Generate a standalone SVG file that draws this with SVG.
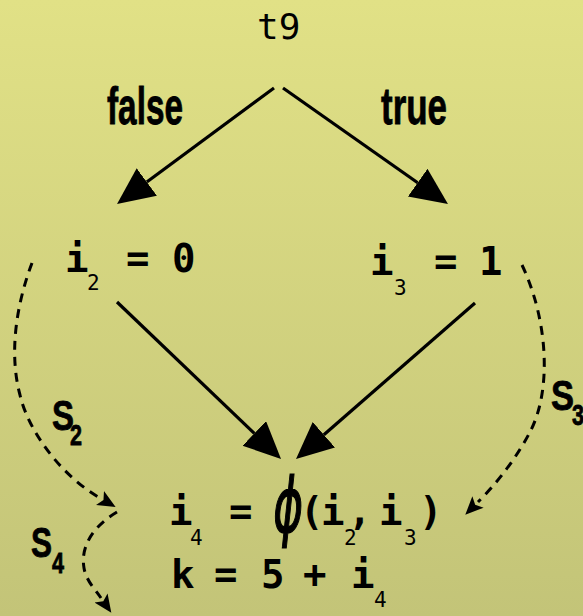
<svg xmlns="http://www.w3.org/2000/svg" width="583" height="616" viewBox="0 0 583 616">
<defs>
<linearGradient id="bg" x1="0" y1="0" x2="0" y2="1">
<stop offset="0" stop-color="#e1e186"/>
<stop offset="1" stop-color="#c3c478"/>
</linearGradient>
<marker id="big" markerUnits="userSpaceOnUse" markerWidth="40" markerHeight="36" refX="0" refY="17" orient="auto">
<path d="M0,0 L37,17 L0,34 z" fill="#000"/>
</marker>
<marker id="sm" markerUnits="userSpaceOnUse" markerWidth="22" markerHeight="20" refX="0" refY="10" orient="auto">
<path d="M0,2 L18,10 L0,18 L4,10 z" fill="#000"/>
</marker>
<style>
.code{font-family:"DejaVu Sans Mono",monospace;font-weight:bold;font-size:39px;fill:#000}
.sub{font-family:"DejaVu Sans Mono",monospace;font-size:21px;fill:#000}
.lab{font-family:"Liberation Sans",Arial,sans-serif;font-weight:bold;fill:#000;stroke:#000;stroke-width:0.8}
.solid{fill:none;stroke:#000;stroke-width:3.2;marker-end:url(#big)}
.dash{fill:none;stroke:#000;stroke-width:3;stroke-dasharray:9 7;marker-end:url(#sm)}
</style>
</defs>
<rect x="0" y="0" width="583" height="616" fill="url(#bg)"/>

<g id="connectors">
<path class="solid" d="M274,88 L146.8,182"/>
<path class="solid" d="M283,88 L417.7,182.7"/>
<path class="solid" d="M117,302 L254.3,433.4"/>
<path class="solid" d="M475,303 L323.9,434.7"/>
<path class="dash" d="M32,263 C18,300 8,350 20,395 C28,430 60,475 100,498"/>
<path class="dash" d="M117,512 C95,525 80,545 84,568 C86,580 94,588 101,598"/>
<path class="dash" d="M522,265 C548,320 552,390 530,432 C518,455 500,480 478,502"/>
</g>

<g id="edge-labels">
<text class="lab" x="107" y="124" font-size="52" textLength="76" lengthAdjust="spacingAndGlyphs">false</text>
<text class="lab" x="381" y="124" font-size="52" textLength="66" lengthAdjust="spacingAndGlyphs">true</text>
<g id="s2"><text class="lab" x="52" y="430" font-size="42" textLength="22" lengthAdjust="spacingAndGlyphs">S</text><text class="lab" x="70" y="445" font-size="30" textLength="12" lengthAdjust="spacingAndGlyphs">2</text></g>
<g id="s3"><text class="lab" x="551" y="410" font-size="42" textLength="23" lengthAdjust="spacingAndGlyphs">S</text><text class="lab" x="572" y="425" font-size="30" textLength="12" lengthAdjust="spacingAndGlyphs">3</text></g>
<g id="s4"><text class="lab" x="31" y="557" font-size="42" textLength="21" lengthAdjust="spacingAndGlyphs">S</text><text class="lab" x="52" y="573" font-size="30" textLength="12" lengthAdjust="spacingAndGlyphs">4</text></g>
</g>

<g id="t9">
<text x="257" y="39" font-family="DejaVu Sans Mono, monospace" font-size="36" fill="#000">t9</text>
</g>

<g id="i2">
<text class="code" x="65" y="272">i</text>
<text class="sub" x="87" y="290">2</text>
<text class="code" x="126" y="272">=</text>
<text class="code" x="172" y="272">0</text>
</g>

<g id="i3">
<text class="code" x="370" y="275">i</text>
<text class="sub" x="394" y="295">3</text>
<text class="code" x="434" y="275">=</text>
<text class="code" x="479" y="275">1</text>
</g>

<g id="phi">
<text class="code" x="169" y="525">i</text>
<text class="sub" x="190" y="545">4</text>
<text class="code" x="229" y="525">=</text>
<text transform="translate(286,532) skewX(-6) scale(0.6,1)" font-family="DejaVu Sans, sans-serif" font-size="76" text-anchor="middle" fill="#000" stroke="#000" stroke-width="1.5">ϕ</text>
<text class="code" x="300" y="525">(</text>
<text class="code" x="321" y="525">i</text>
<text class="sub" x="344" y="545">2</text>
<text class="code" x="348" y="525">,</text>
<text class="code" x="379" y="525">i</text>
<text class="sub" x="404" y="545">3</text>
<text class="code" x="419" y="525">)</text>
<text class="code" x="171" y="588">k</text>
<text class="code" x="214" y="588">=</text>
<text class="code" x="261" y="588">5</text>
<text class="code" x="303" y="588">+</text>
<text class="code" x="351" y="588">i</text>
<text class="sub" x="374" y="607">4</text>
</g>
</svg>
